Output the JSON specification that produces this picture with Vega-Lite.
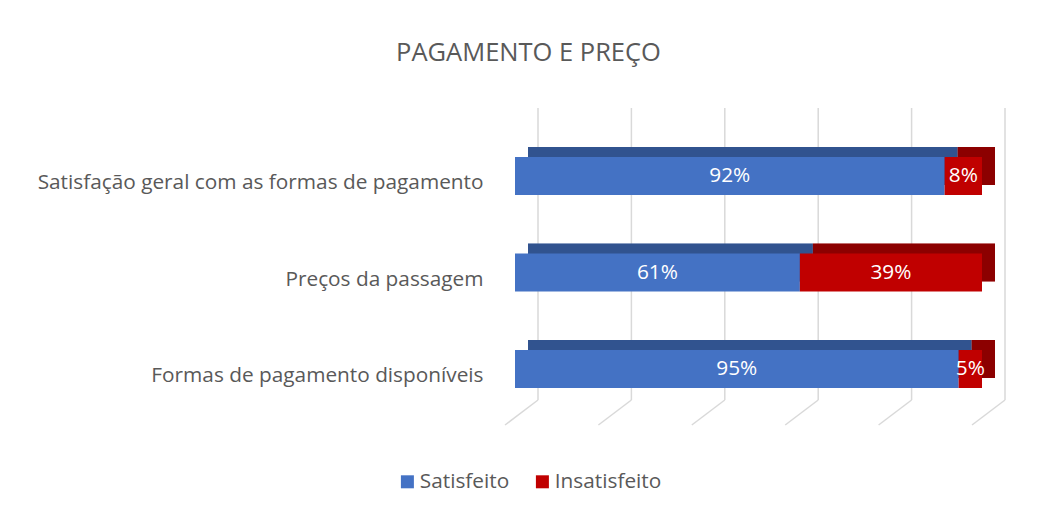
{
  "$schema": "https://vega.github.io/schema/vega-lite/v6.json",
  "autosize": "none",
  "width": 467,
  "height": 329,
  "padding": {"left": 515, "top": 108, "right": 56, "bottom": 74},
  "background": "white",
  "config": {"view": {"stroke": null}, "font": "Open Sans"},
  "title": {"text": "PAGAMENTO E PREÇO", "anchor": "middle", "frame": "group", "dx": -220, "offset": 21, "baseline": "alphabetic", "fontSize": 25.5, "fontWeight": "normal", "color": "#595959", "font": "Open Sans"},
  "datasets": {
    "bars": [
      {"item": "Satisfação geral com as formas de pagamento", "status": "Satisfeito", "order": 1, "pct": 0.92},
      {"item": "Satisfação geral com as formas de pagamento", "status": "Insatisfeito", "order": 2, "pct": 0.08},
      {"item": "Preços da passagem", "status": "Satisfeito", "order": 1, "pct": 0.61},
      {"item": "Preços da passagem", "status": "Insatisfeito", "order": 2, "pct": 0.39},
      {"item": "Formas de pagamento disponíveis", "status": "Satisfeito", "order": 1, "pct": 0.95},
      {"item": "Formas de pagamento disponíveis", "status": "Insatisfeito", "order": 2, "pct": 0.05}
    ],
    "grid": [{"g": 0}, {"g": 0.2}, {"g": 0.4}, {"g": 0.6}, {"g": 0.8}, {"g": 1}]
  },
  "encoding": {
    "y": {"type": "nominal", "sort": ["Satisfação geral com as formas de pagamento", "Preços da passagem", "Formas de pagamento disponíveis"],
      "scale": {"domain": ["Satisfação geral com as formas de pagamento", "Preços da passagem", "Formas de pagamento disponíveis"], "paddingInner": 0.606, "paddingOuter": 0.508},
      "axis": {"title": null, "domain": false, "ticks": false, "labelPadding": 32, "labelOffset": 7, "labelFontSize": 20.8, "labelColor": "#595959", "labelFont": "Open Sans", "labelLimit": 600}}
  },
  "layer": [
    {
      "data": {"name": "grid"},
      "mark": {"type": "rule", "color": "#d9d9d9", "strokeWidth": 1.5, "xOffset": -10, "x2Offset": 23, "yOffset": 56, "y2Offset": 31},
      "encoding": {
        "x": {"field": "g", "type": "quantitative", "scale": {"domain": [0, 1]}, "axis": null},
        "x2": {"field": "g"},
        "y": {"datum": "Formas de pagamento disponíveis", "type": "nominal"},
        "y2": {"datum": "Formas de pagamento disponíveis"}
      }
    },
    {
      "data": {"name": "grid"},
      "mark": {"type": "rule", "color": "#d9d9d9", "strokeWidth": 1.5, "xOffset": 23, "x2Offset": 23, "yOffset": 31, "y2Offset": -68},
      "encoding": {
        "x": {"field": "g", "type": "quantitative"},
        "x2": {"field": "g"},
        "y": {"datum": "Formas de pagamento disponíveis", "type": "nominal"},
        "y2": {"datum": "Satisfação geral com as formas de pagamento"}
      }
    },
    {
      "data": {"name": "bars"},
      "mark": {"type": "bar", "xOffset": 13, "x2Offset": 13, "yOffset": -10},
      "encoding": {
        "y": {"field": "item", "type": "nominal"},
        "x": {"field": "pct", "type": "quantitative", "stack": "zero"},
        "order": {"field": "order"},
        "color": {"field": "status", "type": "nominal"}
      }
    },
    {
      "data": {"name": "bars"},
      "mark": {"type": "bar", "xOffset": 13, "x2Offset": 13, "yOffset": -10, "color": "black", "opacity": 0.27},
      "encoding": {
        "y": {"field": "item", "type": "nominal"},
        "x": {"field": "pct", "type": "quantitative", "stack": "zero"},
        "order": {"field": "order"}
      }
    },
    {
      "data": {"name": "bars"},
      "mark": {"type": "bar"},
      "encoding": {
        "y": {"field": "item", "type": "nominal"},
        "x": {"field": "pct", "type": "quantitative", "stack": "zero"},
        "order": {"field": "order"},
        "color": {"field": "status", "type": "nominal", "scale": {"domain": ["Satisfeito", "Insatisfeito"], "range": ["#4472c4", "#c00000"]},
          "legend": {"orient": "none", "legendX": -118, "legendY": 363, "direction": "horizontal", "title": null, "symbolType": "square", "symbolSize": 169, "symbolStrokeWidth": 0, "labelFontSize": 20.8, "labelColor": "#595959", "labelFont": "Open Sans", "columnPadding": 22, "labelOffset": 2, "padding": 0}}
      }
    },
    {
      "data": {"name": "bars"},
      "transform": [
        {"stack": "pct", "groupby": ["item"], "sort": [{"field": "order", "order": "ascending"}], "as": ["x0", "x1"]},
        {"fold": ["x0", "x1"], "as": ["edge", "pos"]},
        {"aggregate": [{"op": "mean", "field": "pos", "as": "mid"}, {"op": "max", "field": "pct", "as": "pct"}], "groupby": ["item", "status"]}
      ],
      "mark": {"type": "text", "color": "white", "fontSize": 20.8, "font": "Open Sans", "baseline": "middle"},
      "encoding": {
        "y": {"field": "item", "type": "nominal"},
        "x": {"field": "mid", "type": "quantitative"},
        "text": {"field": "pct", "type": "quantitative", "format": ".0%"}
      }
    }
  ]
}
